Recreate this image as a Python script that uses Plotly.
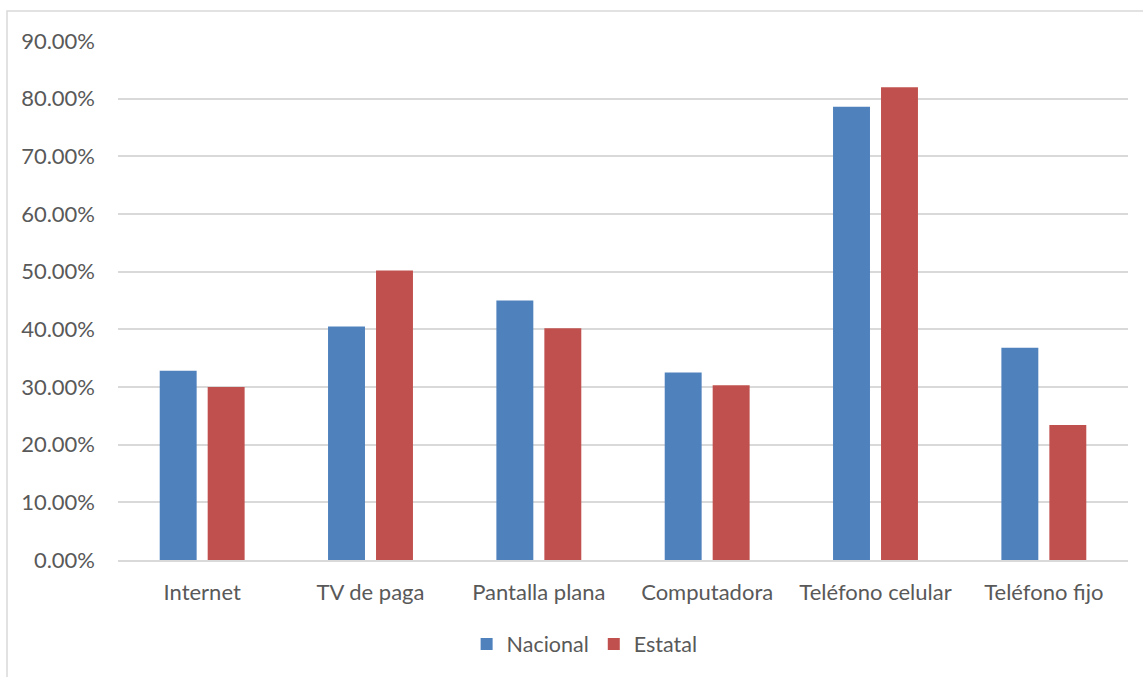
import plotly.graph_objects as go

categories = ["Internet", "TV de paga", "Pantalla plana", "Computadora", "Teléfono celular", "Teléfono fijo"]
nacional = [0.328, 0.405, 0.450, 0.325, 0.786, 0.368]
estatal = [0.300, 0.502, 0.402, 0.303, 0.820, 0.234]
y_ticks = [i / 10 for i in range(10)]

font_family = "Lato, 'Open Sans', sans-serif"
text_color = "#595959"

fig = go.Figure()
fig.add_trace(go.Bar(name="Nacional", x=categories, y=nacional, marker_color="#4F81BD",
                     marker_line=dict(color="#FFFFFF", width=0)))
fig.add_trace(go.Bar(name="Estatal", x=categories, y=estatal, marker_color="#C0504D",
                     marker_line=dict(color="#FFFFFF", width=0)))

fig.update_layout(
    width=1143, height=677,
    margin=dict(l=118, r=15, t=41, b=117),
    paper_bgcolor="white", plot_bgcolor="white",
    barmode="group", bargap=0.43, bargroupgap=0.23,
    font=dict(family=font_family, size=21.5, color=text_color),
    legend=dict(orientation="h", x=0.462, xanchor="center", y=-0.162, yanchor="middle",
                font=dict(size=21.5, color=text_color), itemwidth=30, traceorder="normal"),
    showlegend=True,
)
fig.update_yaxes(range=[0, 0.9], tickvals=y_ticks, tickformat=".2%", showgrid=True,
                 gridcolor="#D9D9D9", gridwidth=1.5, zeroline=False, showline=False,
                 ticklabelstandoff=22, tickfont=dict(size=22, color=text_color))
fig.update_xaxes(showline=True, linecolor="#D9D9D9", linewidth=1.5, showgrid=False,
                 ticklabelstandoff=12, tickfont=dict(size=22, color=text_color))

fig.add_shape(type="rect", xref="paper", yref="paper",
              x0=(7 - 118) / 1010, x1=1.05, y0=-0.3, y1=(560 - 11) / 519,
              line=dict(color="#D9D9D9", width=1.5), fillcolor="rgba(0,0,0,0)", layer="below")

fig.write_html("out.html")
